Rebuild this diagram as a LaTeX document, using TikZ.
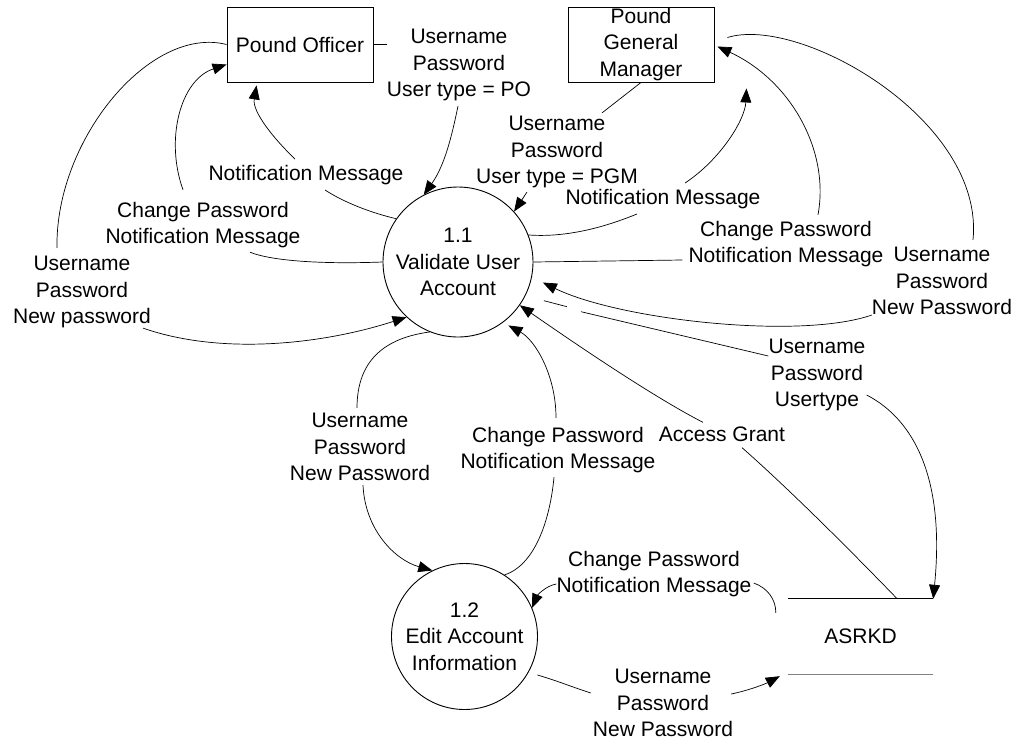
\documentclass[tikz,border=0pt]{standalone}
\usepackage{fontspec}
\setmainfont{Liberation Sans}
\usetikzlibrary{arrows.meta,calc}
\begin{document}
\begin{tikzpicture}[x=1pt,y=-1pt,
  txt/.style={font=\fontsize{21}{26.5}\selectfont},
  lbl/.style={txt,align=center,inner sep=0pt},
  ent/.style={txt,draw,line width=0.9pt,minimum width=146pt,minimum height=75pt,inner sep=0pt,align=center},
  proc/.style={txt,draw,circle,line width=0.9pt,inner sep=0pt,align=center},
  flow/.style={line width=0.7pt},
  arr/.style={flow,-{Triangle[length=14pt,width=11pt]}}]
\useasboundingbox (0,0) rectangle (1021,740);

% entities
\node[ent] (po) at (300,44.5) {Pound Officer};
\node[ent] (pgm) at (641,44.5) {Pound\\General\\Manager};
% processes
\node[proc,minimum size=150pt] (c1) at (458,262) {1.1\\Validate User\\Account};
\node[proc,minimum size=146pt] (c2) at (464.5,636.5) {1.2\\Edit Account\\Information};
% data store
\node[txt,inner sep=0pt,minimum width=145pt,minimum height=75pt] (ds) at (860.5,636.5) {ASRKD};
\draw[line width=0.9pt] (ds.north west) -- (ds.north east);
\draw[line width=0.9pt,gray] (ds.south west) -- (ds.south east);

% labels
\node[lbl] (lPO) at (459,65) {Username\\Password\\User type = PO};
\node[lbl] (lPGM) at (557,152) {Username\\Password\\User type = PGM};
\node[lbl] (lNL) at (306,175) {Notification Message};
\node[lbl] (lCL) at (203,225) {Change Password\\Notification Message};
\node[lbl] (lUL) at (82,292) {Username\\Password\\New password};
\node[lbl] (lNR) at (663,199) {Notification Message};
\node[lbl] (lCR) at (786,244) {Change Password\\Notification Message};
\node[lbl] (lUR) at (942,281) {Username\\Password\\New Password};
\node[lbl] (lUT) at (817,375) {Username\\Password\\Usertype};
\node[lbl] (lAG) at (722,434) {Access Grant};
\node[lbl] (lCM) at (558,450) {Change Password\\Notification Message};
\node[lbl] (lUM) at (360,447) {Username\\Password\\New Password};
\node[lbl] (lCLo) at (654,574) {Change Password\\Notification Message};
\node[lbl] (lULo) at (663,703) {Username\\Password\\New Password};

% A: PO -> 1.1
\draw[flow] (po.east) -- (po.east -| lPO.west);
\draw[arr] ($(lPO.south)+(-1,5)$) .. controls (452,135) and (445,165) .. (c1.117);
% B: PGM -> 1.1
\draw[flow] (pgm.south) -- ($(lPGM.north)+(45,-3)$);
\draw[arr] ($(lPGM.south)+(-30,4)$) -- (c1.42);
% C: 1.1 -> PO notification
\draw[flow] (c1.145) .. controls (372,213) and (345,203) .. ($(lNL.south)+(19,5)$);
\draw[arr] ($(lNL.north)+(-11,-6)$) .. controls (275,140) and (252,112) .. ($(po.south west)+(30,3)$);
% D: 1.1 -> PO change password
\draw[flow] (c1.west) .. controls (330,264) and (275,262) .. ($(lCL.south)+(47,4)$);
\draw[arr] ($(lCL.north)+(-20,-12)$) .. controls (165,140) and (180,80) .. ($(po.west)+(0,20)$);
% E: PO -> 1.1 username
\draw[flow] (po.west) .. controls (150,25) and (55,140) .. ($(lUL.north)+(-25,-8)$);
\draw[arr] ($(lUL.south)+(61,0)$) .. controls (220,355) and (320,345) .. (c1.227);
% F: 1.1 -> PGM notification
\draw[flow] (c1.21) .. controls (570,238) and (610,225) .. ($(lNR.south)+(-26,5)$);
\draw[arr] ($(lNR.north)+(22,-6)$) .. controls (720,160) and (745,120) .. ($(pgm.south east)+(32,6)$);
% G: 1.1 -> PGM change password
\draw[flow] (c1.east) -- ($(lCR.west)+(-6,16)$);
\draw[arr] ($(lCR.north)+(32,-6)$) .. controls (830,150) and (790,80) .. ($(pgm.east)+(3,2)$);
% H: PGM -> 1.1 username
\draw[flow] ($(pgm.east)+(13,-7)$) .. controls (800,15) and (985,120) .. ($(lUR.north)+(31,-7)$);
\draw[arr] (lUR.south west) .. controls (800,340) and (620,320) .. ($(c1.-15)+(12,1)$);
% I: 1.1 -> ASRKD usertype
\draw[flow] ($(c1.-24)+(17,8)$) -- ++(23,6) ($(c1.-24)+(54,19)$) -- ($(lUT.west)+(0,-19)$);
\draw[arr] ($(lUT.east)+(1,20)$) .. controls (915,420) and (945,480) .. (ds.north east);
% J: ASRKD -> 1.1 access grant
\draw[flow] ($(ds.north east)+(-36,0)$) .. controls (850,550) and (790,490) .. ($(lAG.south)+(20,6)$);
\draw[arr] ($(lAG.north)+(-19,-4)$) .. controls (650,395) and (570,340) .. (c1.-35);
% K: 1.1 -> 1.2
\draw[flow] (c1.-112) .. controls (385,338) and (357,360) .. ($(lUM.north)+(-3,-5)$);
\draw[arr] ($(lUM.south)+(3,4)$) .. controls (365,530) and (395,560) .. (c2.116);
% L: 1.2 -> 1.1
\draw[flow] (c2.57) .. controls (535,565) and (550,520) .. ($(lCM.south)+(-4,4)$);
\draw[arr] ($(lCM.north)+(-2,-9)$) .. controls (556,375) and (535,340) .. ($(c1.-52)+(4,4)$);
% M: ASRKD -> 1.2
\draw[flow] ($(ds.north west)+(-12,14)$) .. controls (776,600) and (768,588) .. ($(lCLo.east)+(2,9)$);
\draw[arr] ($(lCLo.west)+(0,10)$) .. controls (545,586) and (537,596) .. (c2.23);
% N: 1.2 -> ASRKD
\draw[flow] ($(c2.-28)+(8,4)$) .. controls (555,680) and (575,688) .. ($(lULo.west)+(-2,-10)$);
\draw[arr] ($(lULo.east)+(-2,-9)$) .. controls (750,690) and (765,684) .. ($(ds.south west)+(-8,2)$);
\end{tikzpicture}
\end{document}
